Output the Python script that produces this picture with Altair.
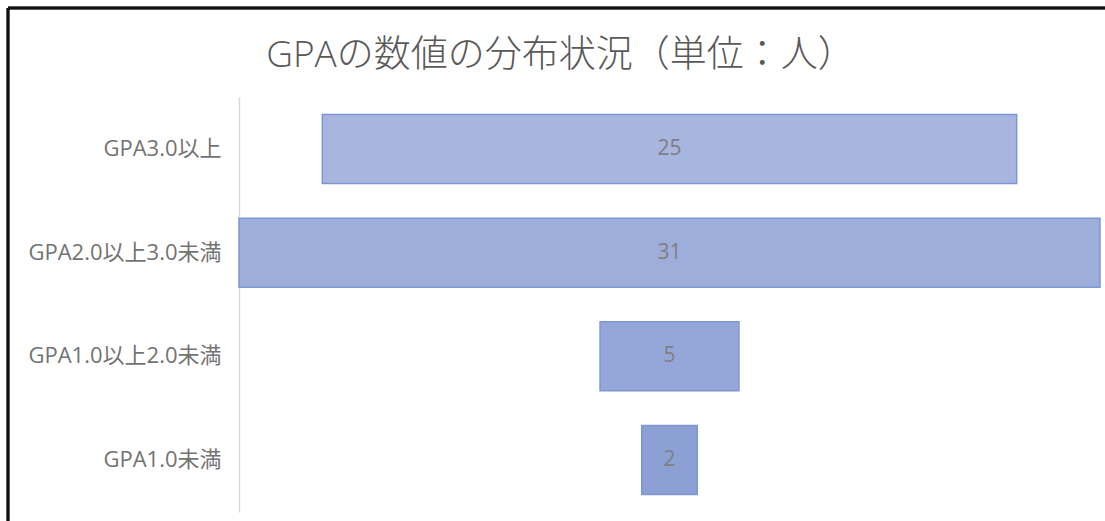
import altair as alt
import pandas as pd

categories = ["GPA3.0以上", "GPA2.0以上3.0未満", "GPA1.0以上2.0未満", "GPA1.0未満"]
counts = [25, 31, 5, 2]
fills = ["#a7b5df", "#9eaedb", "#95a7d8", "#8ca0d5"]

df = pd.DataFrame({"cat": categories, "n": counts})

FONT = "Open Sans, Noto Sans CJK JP"

base = alt.Chart(df).transform_joinaggregate(
    mx="max(n)"
).transform_calculate(
    start="(datum.mx - datum.n) / 2",
    end="(datum.mx + datum.n) / 2",
    mid="datum.mx / 2",
)

yenc = alt.Y(
    "cat:N",
    sort=categories,
    scale=alt.Scale(paddingInner=0.335, paddingOuter=0.17),
    axis=alt.Axis(
        title=None,
        ticks=False,
        domainColor="#d9d9d9",
        domainWidth=1.5,
        labelFont=FONT,
        labelFontSize=22,
        labelColor="#737373",
        labelPadding=18,
        labelLimit=400,
    ),
)

bars = base.mark_bar(stroke="#7d97d3", strokeWidth=1.5).encode(
    x=alt.X("start:Q", scale=alt.Scale(domain=[0, 31], nice=False, zero=False), axis=None),
    x2="end:Q",
    y=yenc,
    color=alt.Color("cat:N", scale=alt.Scale(domain=categories, range=fills), legend=None),
)

labels = base.mark_text(font=FONT, fontSize=21, color="#7f7f7f").encode(
    x=alt.X("mid:Q"),
    y=alt.Y("cat:N", sort=categories),
    text="n:Q",
)

border_top = alt.Chart(df).mark_rule(color="#111111", strokeWidth=2.5).encode(
    x=alt.value(-231), x2=alt.value(900), y=alt.value(-89), y2=alt.value(-89)
)
border_left = alt.Chart(df).mark_rule(color="#111111", strokeWidth=2.5).encode(
    x=alt.value(-231), x2=alt.value(-231), y=alt.value(-89), y2=alt.value(450)
)

chart = alt.layer(bars, labels, border_top, border_left).properties(
    width=861,
    height=415,
    background="white",
    autosize=alt.AutoSizeParams(type="none"),
    padding={"left": 239, "top": 97, "right": 5, "bottom": 9},
    title=alt.TitleParams(
        "GPAの数値の分布状況（単位：人）",
        font=FONT,
        fontSize=37,
        fontWeight=300,
        color="#595959",
        anchor="middle",
        frame="group",
        dx=-109,
        dy=94,
        offset=26,
    ),
).configure_view(stroke=None)

chart.save("out.html", embed_options={"renderer": "svg", "actions": False})
